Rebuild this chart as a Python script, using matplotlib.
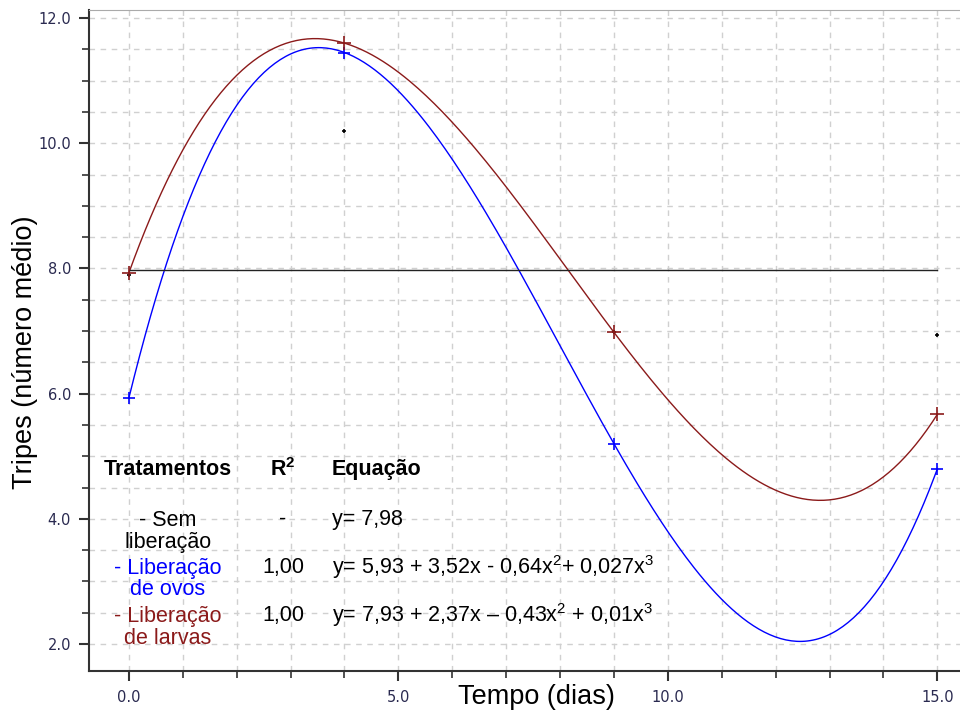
import numpy as np
import matplotlib
matplotlib.use("Agg")
import matplotlib.pyplot as plt
from matplotlib.ticker import MultipleLocator, FormatStrFormatter

# sampling days and mean thrips counts
dias = [0, 4, 9, 15]
sem_lib = [7.90, 10.20, 6.98, 6.93]
ovos = [5.93, 11.45, 5.20, 4.80]
larvas = [7.93, 11.60, 6.98, 5.67]
sem_media = 7.98

cor_ovos = "#0000ff"
cor_larvas = "#8b1a1a"

plt.rcParams['font.family'] = ['Liberation Sans', 'DejaVu Sans']
plt.rcParams['mathtext.fontset'] = 'custom'
plt.rcParams['mathtext.rm'] = 'Liberation Sans'
plt.rcParams['mathtext.bf'] = 'Liberation Sans:bold'
plt.rcParams['mathtext.default'] = 'regular'

fig = plt.figure(figsize=(9.6, 7.11), dpi=100)
ax = fig.add_axes([0.0927, 0.0563, 0.9073, 0.9297])

# cubic fits (R2 = 1.00)
xx = np.linspace(0, 15, 300)
p_ovos = np.polyfit(dias, ovos, 3)
p_larvas = np.polyfit(dias, larvas, 3)
ax.plot(xx, np.polyval(p_larvas, xx), color=cor_larvas, lw=1.0, zorder=3)
ax.plot(xx, np.polyval(p_ovos, xx), color=cor_ovos, lw=1.0, zorder=3)
ax.plot([dias[0], dias[-1]], [sem_media, sem_media], color="#222222", lw=1.0, zorder=3)

ax.plot(dias, sem_lib, ls="none", marker="+", ms=3.5, mew=1.2, color="black", zorder=4)
ax.plot(dias, ovos, ls="none", marker="+", ms=8, mew=1.2, color=cor_ovos, zorder=5)
ax.plot(dias, larvas, ls="none", marker="+", ms=10, mew=1.2, color=cor_larvas, zorder=5)

ax.set_xlim(-0.74, 15.42)
ax.set_ylim(1.57, 12.13)
ax.xaxis.set_major_locator(MultipleLocator(5))
ax.xaxis.set_minor_locator(MultipleLocator(1))
ax.yaxis.set_major_locator(MultipleLocator(2))
ax.yaxis.set_minor_locator(MultipleLocator(0.5))
ax.xaxis.set_major_formatter(FormatStrFormatter("%.1f"))
ax.yaxis.set_major_formatter(FormatStrFormatter("%.1f"))
ax.grid(which="both", color="#d0d0d0", ls=(0, (4, 4)), lw=1.0)
ax.set_axisbelow(True)
ax.tick_params(which="major", length=7, width=1.5, color="#333333", labelsize=10.5,
               labelcolor="#2a2a50", labelfontfamily="DejaVu Sans", pad=6)
ax.tick_params(which="minor", length=5, width=1.2, color="#333333")
ax.tick_params(axis="x", pad=7)
for s in ["left", "bottom"]:
    ax.spines[s].set_linewidth(1.5)
    ax.spines[s].set_color("#333333")
ax.spines["right"].set_visible(False)
ax.spines["top"].set_color("#aaaaaa")

fig.text(0.026, 0.505, "Tripes (número médio)", rotation=90, fontsize=19.5,
         ha="center", va="center")
fig.text(0.559, 0.02, "Tempo (dias)", fontsize=19.5, ha="center", va="center")

# treatments table
fs = 15.5
ax.text(0.72, 4.79, "Tratamentos", fontsize=fs, fontweight="bold", ha="center", va="center")
ax.text(2.86, 4.79, "R$\\mathbf{^2}$", fontsize=fs, fontweight="bold", ha="center", va="center")
ax.text(3.77, 4.79, "Equação", fontsize=fs, fontweight="bold", ha="left", va="center")

ax.text(0.72, 3.80, "- Sem\nliberação", fontsize=fs, ha="center", va="center", linespacing=1.05)
ax.text(0.72, 3.04, "- Liberação\nde ovos", fontsize=fs, ha="center", va="center",
        linespacing=1.05, color=cor_ovos)
ax.text(0.72, 2.27, "- Liberação\nde larvas", fontsize=fs, ha="center", va="center",
        linespacing=1.05, color=cor_larvas)

ax.text(2.86, 3.99, "-", fontsize=fs, ha="center", va="center")
ax.text(2.86, 3.23, "1,00", fontsize=fs, ha="center", va="center")
ax.text(2.86, 2.46, "1,00", fontsize=fs, ha="center", va="center")

ax.text(3.77, 3.99, "y= 7,98", fontsize=fs, ha="left", va="center")
ax.text(3.77, 3.23, "y= 5,93 + 3,52x - 0,64x$^2$+ 0,027x$^3$", fontsize=fs, ha="left", va="center")
ax.text(3.77, 2.46, "y= 7,93 + 2,37x – 0,43x$^2$ + 0,01x$^3$", fontsize=fs, ha="left", va="center")

fig.savefig("out.png", dpi=100)
